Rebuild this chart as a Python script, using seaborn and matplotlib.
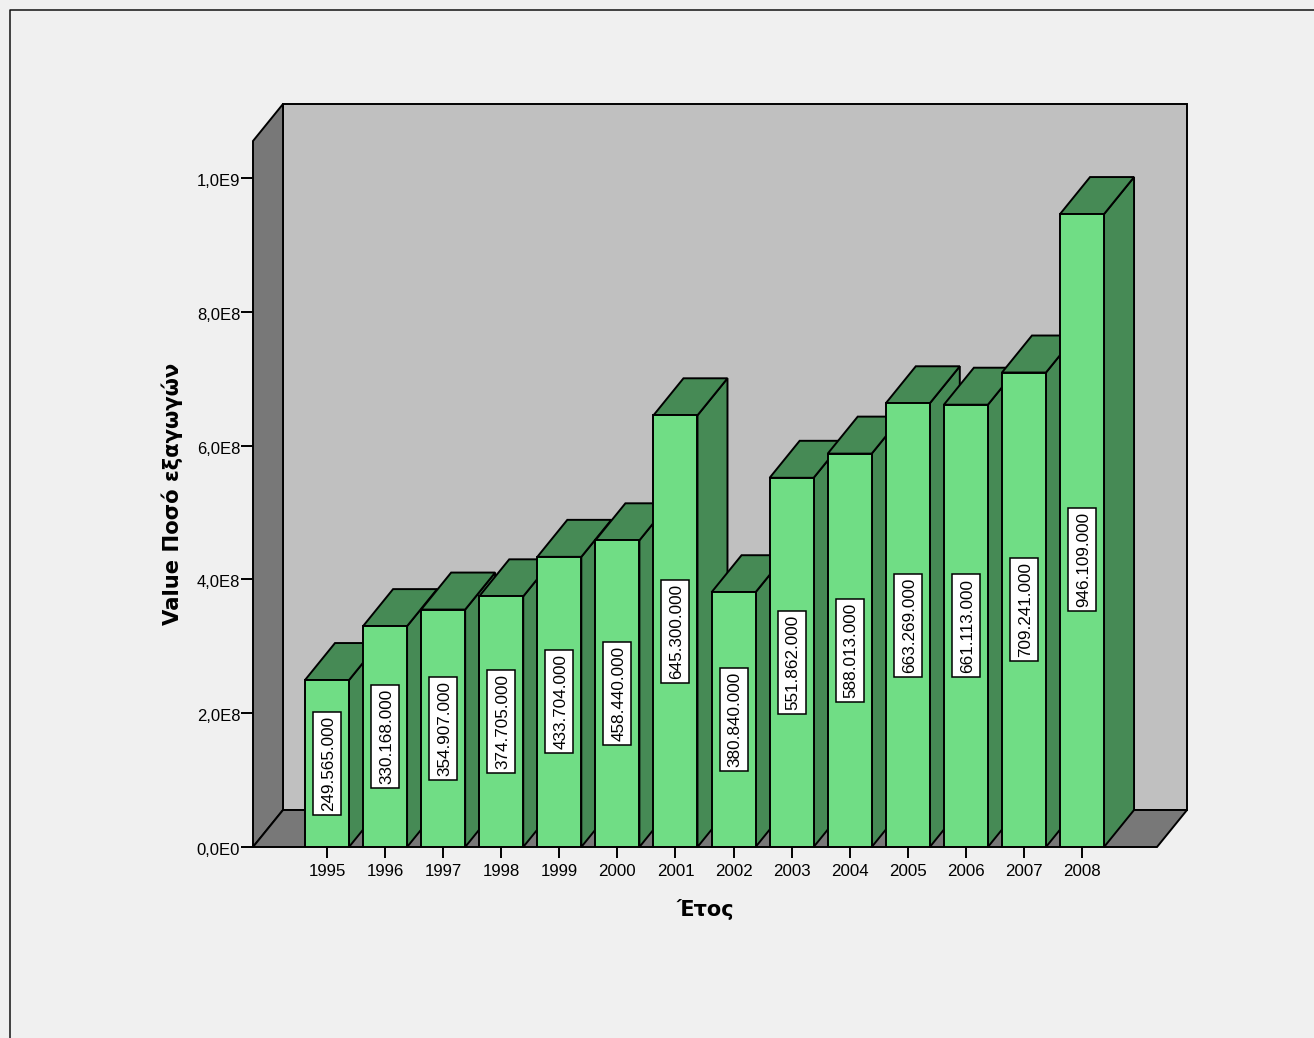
import pandas as pd
import matplotlib
matplotlib.use("Agg")
import matplotlib.pyplot as plt
from matplotlib.lines import Line2D
from matplotlib.patches import Polygon, Rectangle
from matplotlib.transforms import ScaledTranslation
import seaborn as sns

years = ["1995", "1996", "1997", "1998", "1999", "2000", "2001",
         "2002", "2003", "2004", "2005", "2006", "2007", "2008"]
values = [249565000, 330168000, 354907000, 374705000, 433704000, 458440000, 645300000,
          380840000, 551862000, 588013000, 663269000, 661113000, 709241000, 946109000]
y_ticks = [0, 2e8, 4e8, 6e8, 8e8, 1e9]
y_tick_labels = ["0,0E0", "2,0E8", "4,0E8", "6,0E8", "8,0E8", "1,0E9"]

BG = "#f0f0f0"
WALL = "#c0c0c0"
FLOOR = "#787878"
FRONT = "#70dd85"
SIDE = "#468a55"
LW = 1.4

sns.set_theme(style="white")
plt.rcParams["font.family"] = ["Liberation Sans", "DejaVu Sans"]

W, H = 1314, 1038
fig = plt.figure(figsize=(W / 100, H / 100), dpi=100, facecolor=BG)
ax = fig.add_axes([253 / W, (H - 847) / H, 904 / W, 706 / H])
ax.patch.set_alpha(0)

df = pd.DataFrame({"year": years, "value": values})
sns.barplot(data=df, x="year", y="value", color=FRONT, saturation=1, width=44 / 58.08,
            edgecolor="black", linewidth=LW, ax=ax)

x_min, x_max = -74 / 58.08, 830 / 58.08
y_max = 706 / 669 * 1e9
ax.set_xlim(x_min, x_max)
ax.set_ylim(0, y_max)

# oblique depth of the box, in data units
dx = 30 / 58.08
dy = 37 / 669 * 1e9


def poly(pts, color, z):
    ax.add_patch(Polygon(pts, closed=True, facecolor=color, edgecolor="black",
                         linewidth=LW, joinstyle="miter", clip_on=False, zorder=z))


# walls and floor
poly([(x_min + dx, dy), (x_max + dx, dy), (x_max + dx, y_max + dy), (x_min + dx, y_max + dy)], WALL, 1)
poly([(x_min, 0), (x_min + dx, dy), (x_min + dx, y_max + dy), (x_min, y_max)], FLOOR, 2)
poly([(x_min, 0), (x_max, 0), (x_max + dx, dy), (x_min + dx, dy)], FLOOR, 2)

# paint bars left to right so each one hides the side of the previous one
half = 22 / 58.08
for i, (bar, v) in enumerate(zip(ax.patches[:len(values)], values)):
    bar.set_zorder(12 + 2 * i)
    l, r = i - half, i + half
    poly([(r, 0), (r + dx, dy), (r + dx, v + dy), (r, v)], SIDE, 11 + 2 * i)
    poly([(l, v), (r, v), (r + dx, v + dy), (l + dx, v + dy)], SIDE, 11 + 2 * i)
    label = f"{v:,}".replace(",", ".")
    # the 2008 label sits a bit below the middle of its bar in the original
    mid = v / 2 - (29 / 669 * 1e9 if years[i] == "2008" else 0)
    bw, bh = 28 / 58.08, 103 / 669 * 1e9
    ax.add_patch(Rectangle((i - bw / 2, mid - bh / 2), bw, bh, facecolor="white",
                           edgecolor="black", linewidth=1.1, zorder=50))
    ax.text(i + 1.5 / 58.08, mid, label, rotation=90, rotation_mode="anchor", ha="center", va="center",
            fontsize=12.3, color="black", zorder=51)

sns.despine(ax=ax, left=True, bottom=True)
ax.set_yticks(y_ticks)
ax.set_yticklabels(y_tick_labels)
ax.tick_params(axis="y", left=True, length=8.5, width=LW, pad=0, labelsize=12, labelcolor="black", color="black")
ax.tick_params(axis="x", bottom=True, length=8, width=LW, pad=4, labelsize=12.2, labelcolor="black", color="black")
ax.set_xlabel("")
ax.set_ylabel("")

# y tick labels sit slightly under their ticks
shift = ScaledTranslation(-1 / 100, -2 / 100, fig.dpi_scale_trans)
for t in ax.get_yticklabels():
    t.set_transform(t.get_transform() + shift)

fig.text(705 / W, 1 - 909 / H, "Έτος", family="DejaVu Sans", fontweight="bold", fontsize=15,
         ha="center", va="center", color="black")
fig.text(172 / W, 1 - 494 / H, "Value Ποσό εξαγωγών", family="DejaVu Sans", fontweight="bold", fontsize=15.2,
         rotation=90, ha="center", va="center", color="black")

# outer frame, only top and left are inside the picture
fig.add_artist(Line2D([9.5 / W, 9.5 / W, 1], [0, 1 - 10 / H, 1 - 10 / H], color="#111111", linewidth=1.1))

fig.savefig("out.png", dpi=100, facecolor=BG)
